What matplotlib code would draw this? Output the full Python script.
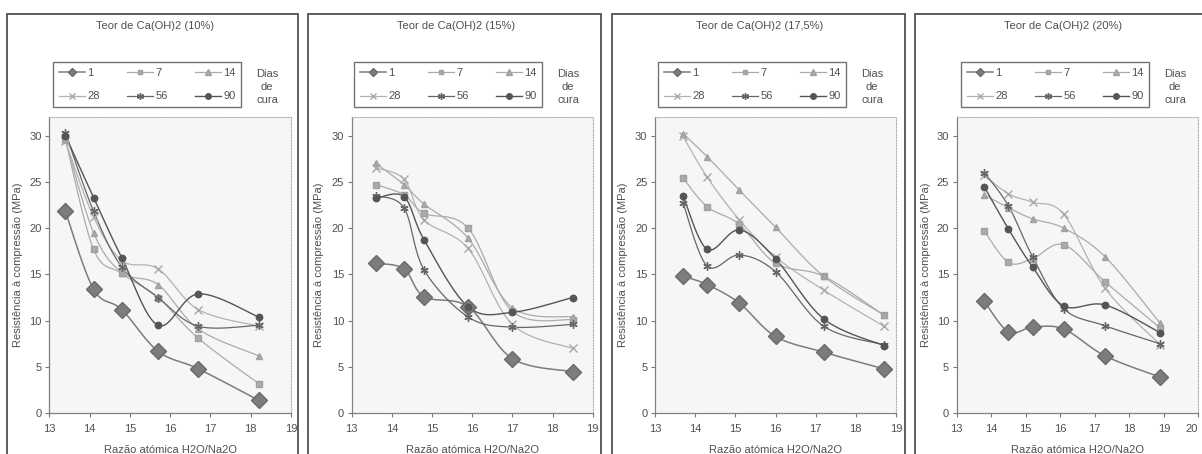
#!/usr/bin/env python3
"""Compressive strength vs H2O/Na2O ratio, four Ca(OH)2 contents."""

import matplotlib

matplotlib.use("Agg")
import matplotlib.pyplot as plt
import numpy as np
from matplotlib.lines import Line2D
from matplotlib.patches import Rectangle

plt.rcParams["font.family"] = ["Liberation Sans", "DejaVu Sans"]

# ---- data ----
DAYS = ["1", "7", "14", "28", "56", "90"]
TITLES = [
    "Teor de Ca(OH)2 (10%)",
    "Teor de Ca(OH)2 (15%)",
    "Teor de Ca(OH)2 (17,5%)",
    "Teor de Ca(OH)2 (20%)",
]

X_10 = [13.4, 14.1, 14.8, 15.7, 16.7, 18.2]
Y_10 = [
    [21.8, 13.4, 11.2, 6.7, 4.8, 1.4],
    [29.6, 17.7, 15.1, 12.5, 8.1, 3.2],
    [29.5, 19.5, 15.2, 13.9, 9.1, 6.2],
    [29.4, 21.2, 16.5, 15.6, 11.2, 9.4],
    [30.3, 21.8, 15.8, 12.5, 9.4, 9.5],
    [30.0, 23.3, 16.8, 9.5, 12.9, 10.4],
]

X_15 = [13.6, 14.3, 14.8, 15.9, 17.0, 18.5]
Y_15 = [
    [16.2, 15.6, 12.6, 11.5, 5.9, 4.5],
    [24.7, 23.6, 21.6, 20.0, 11.0, 10.1],
    [27.0, 24.7, 22.6, 18.9, 11.4, 10.4],
    [26.5, 25.3, 20.9, 17.8, 9.6, 7.0],
    [23.5, 22.2, 15.5, 10.4, 9.3, 9.6],
    [23.2, 23.4, 18.75, 11.5, 10.9, 12.5],
]

X_175 = [13.7, 14.3, 15.1, 16.0, 17.2, 18.7]
Y_175 = [
    [14.8, 13.9, 11.9, 8.3, 6.6, 4.8],
    [25.4, 22.3, 20.4, 16.2, 14.8, 10.6],
    [30.2, 27.7, 24.1, 20.1, 14.8, 10.6],
    [29.9, 25.5, 20.9, 16.9, 13.3, 9.4],
    [22.7, 15.9, 17.1, 15.3, 9.4, 7.4],
    [23.5, 17.7, 19.8, 16.7, 10.2, 7.3],
]

X_20 = [13.8, 14.5, 15.2, 16.1, 17.3, 18.9]
Y_20 = [
    [12.1, 8.8, 9.3, 9.1, 6.2, 3.9],
    [19.7, 16.3, 16.7, 18.2, 14.2, 9.2],
    [23.6, 22.2, 21.0, 20.0, 16.9, 9.7],
    [25.7, 23.7, 22.8, 21.5, 13.5, 7.4],
    [26.0, 22.4, 16.9, 11.3, 9.45, 7.5],
    [24.45, 19.9, 15.8, 11.6, 11.7, 8.7],
]

X_LIMITS = [(13, 19), (13, 19), (13, 19), (13, 20)]
Y_TICKS = [0, 5, 10, 15, 20, 25, 30]

PANELS = [(X_10, Y_10), (X_15, Y_15), (X_175, Y_175), (X_20, Y_20)]

# ---- styling ----
STYLES = [
    dict(marker="D", ms=7.8, color="#7c7c7c", mec="#6a6a6a", lw=1.1),
    dict(marker="s", ms=4.2, color="#ababab", mec="#a0a0a0", lw=0.9),
    dict(marker="^", ms=5.0, color="#ababab", mec="#a0a0a0", lw=0.9),
    dict(marker="x", ms=6.0, color="#b2b2b2", mec="#a8a8a8", lw=0.9),
    dict(marker=(6, 2, 0), ms=6.0, color="#666666", mec="#666666", lw=0.9),
    dict(marker="o", ms=4.6, color="#555555", mec="#555555", lw=1.0),
]
LEGEND_MS = [4.0, 3.5, 4.0, 5.0, 5.0, 4.0]
TEXT = "#505050"
FS = 8

W, H = 1202, 454
FRAME_LEFT = [7, 308, 612, 915]
FRAME_RIGHT = [298, 601, 905, 1204]
AXES_LEFT = [49.3, 351.7, 655.0, 956.7]
AXES_RIGHT = [291.0, 592.7, 896.0, 1198.3]
AXES_TOP, AXES_BOTTOM = 117.0, 413.3


def smooth(xs, ys, steps=20):
    """Catmull-Rom curve through the points, like Excel's smoothed line."""
    p = np.column_stack([xs, ys]).astype(float)
    p = np.vstack([p[0], p, p[-1]])
    t = np.linspace(0, 1, steps)[:, None]
    parts = []
    for i in range(1, len(p) - 2):
        p0, p1, p2, p3 = p[i - 1], p[i], p[i + 1], p[i + 2]
        seg = 0.5 * (
            2 * p1
            + (-p0 + p2) * t
            + (2 * p0 - 5 * p1 + 4 * p2 - p3) * t**2
            + (-p0 + 3 * p1 - 3 * p2 + p3) * t**3
        )
        parts.append(seg if i == 1 else seg[1:])
    pts = np.vstack(parts)
    return pts[:, 0], pts[:, 1]


def fig_rect(x0, y0, x1, y1):
    return [x0 / W, 1 - y1 / H, (x1 - x0) / W, (y1 - y0) / H]


fig = plt.figure(figsize=(W / 100, H / 100), dpi=100)

for k, ((xs, series), title) in enumerate(zip(PANELS, TITLES)):
    fl = FRAME_LEFT[k]
    # chart-area frame
    fig.add_artist(
        Rectangle(
            (fl / W, -0.05), (FRAME_RIGHT[k] - fl) / W, 1 - 14 / H + 0.05,
            transform=fig.transFigure, fill=False, ec="#505050", lw=1.3,
        )
    )
    fig.text((fl + 148) / W, 1 - 26 / H, title, ha="center", va="center",
             fontsize=FS, color=TEXT)
    fig.text((fl + 260) / W, 1 - 87 / H, "Dias\nde\ncura", ha="center", va="center",
             fontsize=FS, color=TEXT, linespacing=1.4)

    ax = fig.add_axes(fig_rect(AXES_LEFT[k], AXES_TOP, AXES_RIGHT[k], AXES_BOTTOM))
    ax.set_facecolor("#f6f6f6")
    for values, st in zip(series, STYLES):
        sx, sy = smooth(xs, values)
        ax.plot(sx, sy, color=st["color"], lw=st["lw"], zorder=2)
        ax.plot(xs, values, ls="none", marker=st["marker"], ms=st["ms"],
                color=st["color"], mec=st["mec"], mew=1.0, zorder=3)

    ax.set_xlim(*X_LIMITS[k])
    ax.set_ylim(0, 32)
    ax.set_xticks(np.arange(X_LIMITS[k][0], X_LIMITS[k][1] + 1))
    ax.set_yticks(Y_TICKS)
    ax.tick_params(axis="both", direction="out", length=3, width=0.8,
                   colors="#777777", labelcolor=TEXT, labelsize=FS)
    ax.tick_params(axis="x", pad=5)
    ax.tick_params(axis="y", pad=2.5)
    if AXES_RIGHT[k] > W - 10:
        # last tick label would run past the image edge
        ax.get_xticklabels()[-1].set_horizontalalignment("right")
    for side in ("left", "bottom"):
        ax.spines[side].set_color("#808080")
        ax.spines[side].set_linewidth(0.9)
    for side in ("top", "right"):
        ax.spines[side].set_color("#b0b0b0")
        ax.spines[side].set_linestyle((0, (1, 1.5)))
        ax.spines[side].set_linewidth(0.8)

    ax.set_ylabel("Resistência à compressão (MPa)", fontsize=FS, color=TEXT)
    ax.yaxis.set_label_coords((fl + 16 - AXES_LEFT[k]) / (AXES_RIGHT[k] - AXES_LEFT[k]), 0.5)
    ax.set_xlabel("Razão atómica H2O/Na2O", fontsize=FS, color=TEXT)
    ax.xaxis.set_label_coords(0.5, -(445 - AXES_BOTTOM) / (AXES_BOTTOM - AXES_TOP))

    handles = [
        Line2D([], [], color=st["color"], lw=st["lw"], marker=st["marker"],
               ms=ms, mec=st["mec"], label=day)
        for st, ms, day in zip(STYLES, LEGEND_MS, DAYS)
    ]
    order = [0, 3, 1, 4, 2, 5]
    leg = fig.legend(
        [handles[i] for i in order], [DAYS[i] for i in order],
        ncol=3, loc="upper left",
        bbox_to_anchor=((fl + 46) / W, 1 - 62 / H), borderaxespad=0,
        fontsize=FS, frameon=True, fancybox=False, edgecolor="#505050",
        handlelength=2.4, handletextpad=0.2, columnspacing=2.4,
        labelspacing=1.25, borderpad=0.5, numpoints=1,
    )
    leg.get_frame().set_linewidth(1.0)
    for txt in leg.get_texts():
        txt.set_color(TEXT)

fig.savefig("out.png", dpi=100, facecolor="white")
